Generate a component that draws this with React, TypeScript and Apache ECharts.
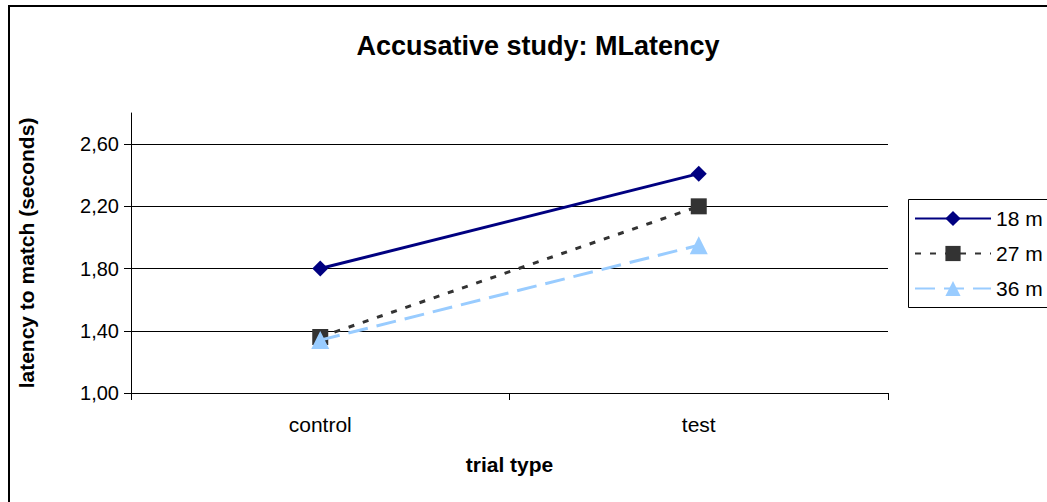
import React, { useEffect, useRef } from "react";
import * as echarts from "echarts";

const categories = ["control", "test"];
const seriesNames = ["18 m", "27 m", "36 m"];
const values18 = [1.8, 2.41];
const values27 = [1.36, 2.2];
const values36 = [1.34, 1.95];
const yTicks = [1.0, 1.4, 1.8, 2.2, 2.6];

const FONT = "'Liberation Sans', Arial, sans-serif";

export default function App() {
  const ref = useRef<HTMLDivElement>(null);
  useEffect(() => {
    if (!ref.current) return;
    const chart = echarts.init(ref.current, undefined, { renderer: "svg" });
    chart.setOption({
      animation: false,
      backgroundColor: "#ffffff",
      textStyle: { fontFamily: FONT },
      title: {
        text: "Accusative study: MLatency",
        left: 533,
        top: 27,
        textAlign: "center",
        textStyle: { fontFamily: FONT, fontSize: 27, fontWeight: "bold", color: "#000" },
      },
      graphic: [
        {
          type: "rect",
          shape: { x: 9, y: 6, width: 1100, height: 600 },
          style: { fill: "none", stroke: "#000", lineWidth: 2 },
          silent: true,
        },
        {
          type: "rect",
          shape: { x: 908.5, y: 199.5, width: 200, height: 108 },
          style: { fill: "#fff", stroke: "#000", lineWidth: 1 },
          silent: true,
          z: 0,
        },
      ],
      legend: {
        orient: "vertical",
        left: 914,
        top: 207,
        padding: 0,
        itemWidth: 76,
        itemHeight: 19,
        itemGap: 12,
        z: 10,
        textStyle: { fontFamily: FONT, fontSize: 21, color: "#000", lineHeight: 23 },
        data: seriesNames,
      },
      grid: { left: 131, right: 159, top: 113, bottom: 109 },
      xAxis: {
        type: "category",
        data: categories,
        boundaryGap: true,
        axisLine: { lineStyle: { color: "#000", width: 1 } },
        axisTick: { show: true, length: 7, inside: false, lineStyle: { color: "#000" } },
        axisLabel: { fontFamily: FONT, fontSize: 21, color: "#000", margin: 21 },
        name: "trial type",
        nameLocation: "middle",
        nameGap: 61,
        nameTextStyle: { fontFamily: FONT, fontSize: 21, fontWeight: "bold", color: "#000" },
      },
      yAxis: {
        type: "value",
        min: 1.0,
        max: 2.8,
        axisLine: { show: true, lineStyle: { color: "#000", width: 1 } },
        axisTick: { show: true, length: 7, customValues: yTicks, lineStyle: { color: "#000" } },
        axisLabel: {
          fontFamily: FONT,
          fontSize: 20,
          color: "#000",
          margin: 12,
          customValues: yTicks,
          formatter: (v: number) => v.toFixed(2).replace(".", ","),
        },
        splitLine: { show: true, lineStyle: { color: "#000", width: 1 } },
        name: "latency to match (seconds)",
        nameLocation: "middle",
        nameGap: 94,
        nameTextStyle: { fontFamily: FONT, fontSize: 21, fontWeight: "bold", color: "#000" },
      },
      series: [
        {
          name: seriesNames[0],
          type: "line",
          data: values18,
          color: "#000080",
          symbol: "diamond",
          symbolSize: 16,
          lineStyle: { color: "#000080", width: 3, type: "solid" },
          itemStyle: { color: "#000080" },
          z: 4,
        },
        {
          name: seriesNames[1],
          type: "line",
          data: values27,
          color: "#333333",
          symbol: "rect",
          symbolSize: 16,
          lineStyle: { color: "#333333", width: 3, type: [6, 9] },
          itemStyle: { color: "#333333" },
          z: 3,
        },
        {
          name: seriesNames[2],
          type: "line",
          data: values36,
          color: "#99ccff",
          symbol: "triangle",
          symbolSize: 18,
          lineStyle: { color: "#99ccff", width: 3, type: [20, 9] },
          itemStyle: { color: "#99ccff" },
          z: 5,
        },
      ],
    });
    return () => chart.dispose();
  }, []);
  return (
    <div
      ref={ref}
      style={{ position: "fixed", left: 0, top: 0, width: 1047, height: 502, background: "#fff" }}
    />
  );
}
